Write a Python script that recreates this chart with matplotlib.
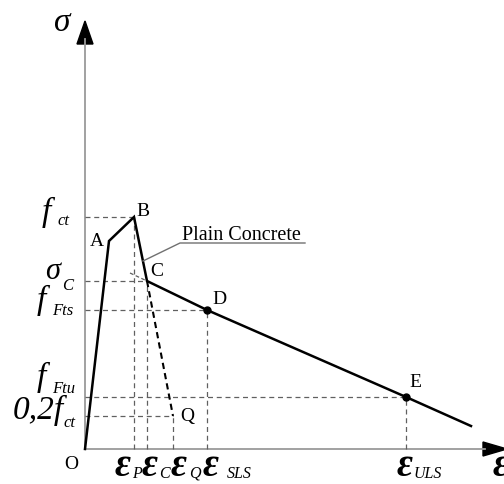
import numpy as np
import matplotlib.pyplot as plt
from matplotlib.patches import Polygon

plt.rcParams['font.family'] = 'Liberation Serif'

# characteristic points of the stress-strain law (O, A, B, C, D, E, end)
point_names = ['O', 'A', 'B', 'C', 'D', 'E', '']
strain = [0, 24, 49, 62, 122, 321, 386]
stress = [0, 208, 232, 168, 139, 52, 23]

# plain concrete softening branch ends at Q
strain_q = 88
stress_q = 33

# reference levels on each axis
stress_main = ['f', '\u03c3', 'f', 'f', '0,2f']
stress_subs = ['ct', 'C', 'Fts', 'Ftu', 'ct']
stress_levels = [232, 168, 139, 52, 33]
stress_ends = [49, 62, 122, 321, 88]
strain_subs = ['P', 'C', 'Q', 'SLS', 'ULS']
strain_levels = [49, 62, 88, 122, 321]
strain_tops = [232, 168, 33, 139, 52]

fig = plt.figure(figsize=(5.04, 4.85), dpi=100)
ax = fig.add_axes([0, 0, 1, 1])
ax.set_xlim(-85, 419)
ax.set_ylim(-35, 450)
ax.axis('off')


def px(x, y):
    # pixel position (from top-left) -> data coords
    return x - 85, 450 - y


def symbol(x, y, main, sub, size, subsize, sx, sy, weight='normal'):
    ax.text(*px(x, y), main, fontsize=size, style='italic', weight=weight,
            ha='left', va='baseline', clip_on=False)
    ax.text(*px(sx, sy), sub, fontsize=subsize, style='italic',
            ha='left', va='baseline', clip_on=False)


axis_col = '#9a9a9a'
dash_col = '#606060'

# axes with arrow heads
ax.plot([0, 0], [0, 410], color=axis_col, lw=1.3)
ax.plot([0, 400], [0, 0], color=axis_col, lw=1.3)
ax.add_patch(Polygon([[-8, 405], [8, 405], [0, 428]], closed=True, color='black'))
ax.add_patch(Polygon([[398, -7], [398, 7], [422, 0]], closed=True, color='black',
                     clip_on=False))

# dashed guides
for lvl, end in zip(stress_levels, stress_ends):
    ax.plot([0, end], [lvl, lvl], color=dash_col, lw=0.9, ls=(0, (4, 3)))
for lvl, top in zip(strain_levels, strain_tops):
    ax.plot([lvl, lvl], [0, top], color=dash_col, lw=0.9, ls=(0, (4, 3)))

# plain concrete branch and extension of CD
ax.plot([strain[3], strain_q], [stress[3], stress_q], color='black', lw=1.5,
        ls=(0, (3, 2)))
ax.plot([45, strain[3]], [176, stress[3]], color=dash_col, lw=0.9, ls=(0, (3, 2)))

# main curve
ax.plot(strain, stress, color='black', lw=1.8, solid_joinstyle='miter')
ax.plot([strain[4], strain[5]], [stress[4], stress[5]], 'o', color='black', ms=5)

# point letters
lab_pos = {'O': (-14, -15), 'A': (12, 208), 'B': (58, 238), 'C': (72, 178),
           'D': (134, 150), 'E': (330, 67)}
for name in point_names:
    if name in lab_pos:
        x, y = lab_pos[name]
        ax.text(x, y, name, fontsize=14, ha='center', va='center')
ax.text(102, 33, 'Q', fontsize=14, ha='center', va='center')

# plain concrete label with leader
ax.plot([58, 95, 220], [188, 206, 206], color='#707070', lw=1)
ax.text(*px(182, 240), 'Plain Concrete', fontsize=14.5, ha='left', va='baseline')

# axis names
ax.text(*px(54, 31), '\u03c3', fontsize=24, style='italic', ha='left', va='baseline')
ax.text(*px(493, 476), '\u03b5', fontsize=28, style='italic', weight='bold',
        ha='left', va='baseline', clip_on=False)

# stress levels on the vertical axis
stress_xy = [(42, 221, 57, 225), (45, 279, 62, 290), (37, 309, 52, 315),
             (37, 386, 52, 393), (13, 419, 63, 427)]
for main, sub, (x, y, sx, sy) in zip(stress_main, stress_subs, stress_xy):
    size = 22 if main == '\u03c3' else 24
    symbol(x, y, main, sub, size, 12, sx, sy)

# strain levels on the horizontal axis
strain_xy = [(115, 132), (142, 159), (171, 189), (203, 227), (397, 414)]
for sub, (x, sx) in zip(strain_subs, strain_xy):
    symbol(x, 476, '\u03b5', sub, 28, 11.5, sx, 478, weight='bold')

fig.savefig('out.png', dpi=100)
